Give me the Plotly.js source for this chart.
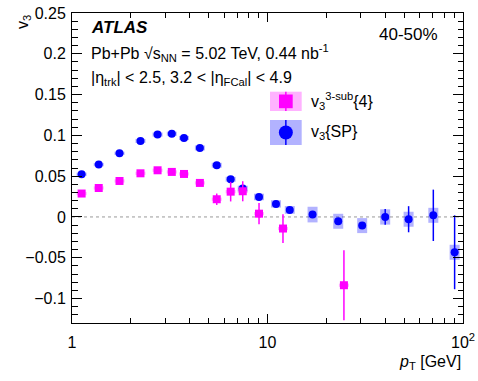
<!DOCTYPE html>
<html>
<head>
<meta charset="utf-8">
<script src="https://cdn.plot.ly/plotly-3.0.1.min.js"></script>
<style>html,body{margin:0;padding:0;background:#fff;}#chart{width:478px;height:381px;}</style>
</head>
<body>
<div id="chart"></div>
<script>
// v3{SP}
const ptSP   = [1.12, 1.37, 1.75, 2.24, 2.74, 3.24, 3.74, 4.51, 5.5, 6.48, 7.47, 9.05, 11.05, 13.0, 17.0, 23.0, 30.5, 40.0, 52.7, 70.5, 90.6];
const v3SP   = [0.0523, 0.0642, 0.078, 0.0932, 0.101, 0.102, 0.0968, 0.0846, 0.0634, 0.0462, 0.0348, 0.0245, 0.016, 0.0086, 0.0029, -0.0053, -0.0106, 0.0, -0.0028, 0.002, -0.0433];
const statSP = [0.0008, 0.0008, 0.0008, 0.0008, 0.0008, 0.0008, 0.0008, 0.001, 0.001, 0.0015, 0.002, 0.002, 0.002, 0.002, 0.003, 0.003, 0.003, 0.0096, 0.016, 0.0315, 0.0453];
const systSP = [0.002, 0.002, 0.002, 0.0025, 0.0025, 0.0025, 0.0025, 0.003, 0.003, 0.003, 0.0035, 0.004, 0.0045, 0.0047, 0.0096, 0.0092, 0.0092, 0.0094, 0.0092, 0.0092, 0.0092];
// v3^{3-sub}{4}
const ptC    = [1.12, 1.37, 1.75, 2.24, 2.74, 3.24, 3.74, 4.51, 5.5, 6.48, 7.47, 9.05, 12.0, 24.6];
const v3C    = [0.0287, 0.0355, 0.0441, 0.0535, 0.0572, 0.0552, 0.0527, 0.0417, 0.0217, 0.031, 0.0315, 0.004, -0.0142, -0.0837];
const statC  = [0.001, 0.001, 0.001, 0.0015, 0.002, 0.002, 0.002, 0.003, 0.007, 0.012, 0.0123, 0.013, 0.0176, 0.043];
const systC  = [0.002, 0.002, 0.002, 0.002, 0.002, 0.002, 0.002, 0.002, 0.002, 0.002, 0.002, 0.002, 0.002, 0.002];

const xTickVals = [1, 10, 100];
const xTickText = ['1', '10', '10<sup>2</sup>'];
const xMinorVals = [2,3,4,5,6,7,8,9,20,30,40,50,60,70,80,90];
const yTickVals = [-0.1, -0.05, 0, 0.05, 0.1, 0.15, 0.2, 0.25];
const yTickText = ['\u22120.1', '\u22120.05', '0', '0.05', '0.1', '0.15', '0.2', '0.25'];

const BLUE = '#0000ff', BLUEBOX = 'rgba(0,0,255,0.3)';
const PINK = '#ff00ff', PINKBOX = 'rgba(255,0,255,0.3)';
const FONT = 'Liberation Sans, Arial, Helvetica, sans-serif';

const traces = [
  {x: ptSP, y: v3SP, type: 'scatter', mode: 'markers', marker: {size: 1, opacity: 0},
   error_y: {type: 'data', array: systSP, visible: true, thickness: 10, width: 0, color: BLUEBOX},
   showlegend: false, hoverinfo: 'skip'},
  {x: ptC, y: v3C, type: 'scatter', mode: 'markers', marker: {size: 1, opacity: 0},
   error_y: {type: 'data', array: systC, visible: true, thickness: 10, width: 0, color: PINKBOX},
   showlegend: false, hoverinfo: 'skip'},
  {x: ptSP, y: v3SP, type: 'scatter', mode: 'markers', marker: {symbol: 'circle', size: 8, color: BLUE},
   error_y: {type: 'data', array: statSP, visible: true, thickness: 1.5, width: 0, color: BLUE},
   showlegend: false},
  {x: ptC, y: v3C, type: 'scatter', mode: 'markers', marker: {symbol: 'square', size: 8, color: PINK},
   error_y: {type: 'data', array: statC, visible: true, thickness: 1.5, width: 0, color: PINK},
   showlegend: false}
];

// plot area in pixels: x 72..463, y 13..323
const L = 72, R = 463, T = 13, B = 323;
const px = v => (v - L) / (R - L);
const py = v => (B - v) / (B - T);

const shapes = [
  {type: 'line', xref: 'paper', yref: 'y', x0: 0, x1: 1, y0: 0, y1: 0, line: {color: '#999', width: 1, dash: '3px,3px'}, layer: 'below'},
  // legend: pink
  {type: 'rect', xref: 'paper', yref: 'paper', x0: px(270), x1: px(301.7), y0: py(111), y1: py(91.7), fillcolor: PINKBOX, line: {width: 0}},
  {type: 'line', xref: 'paper', yref: 'paper', x0: px(285.85), x1: px(285.85), y0: py(111), y1: py(91.7), line: {color: PINK, width: 1.5}},
  {type: 'rect', xref: 'paper', yref: 'paper', x0: px(279), x1: px(292.7), y0: py(108.2), y1: py(94.5), fillcolor: PINK, line: {width: 0}},
  // legend: blue
  {type: 'rect', xref: 'paper', yref: 'paper', x0: px(270), x1: px(301.7), y0: py(145), y1: py(120), fillcolor: BLUEBOX, line: {width: 0}},
  {type: 'line', xref: 'paper', yref: 'paper', x0: px(285.85), x1: px(285.85), y0: py(145), y1: py(120), line: {color: BLUE, width: 1.5}},
  {type: 'circle', xref: 'paper', yref: 'paper', x0: px(278.85), x1: px(292.85), y0: py(139.5), y1: py(125.5), fillcolor: BLUE, line: {width: 0}}
];

const ann = (text, x, y, xa, ya, extra) => Object.assign({text, x, y, xref: 'paper', yref: 'paper', xanchor: xa, yanchor: ya, showarrow: false, font: {family: FONT, size: 16, color: '#000'}}, extra || {});

const annotations = [
  ann('<b><i>ATLAS</i></b>', px(89), py(28), 'left', 'middle', {font: {family: FONT, size: 17, color: '#000'}}),
  ann('Pb+Pb \u221As<sub>NN</sub> = 5.02 TeV, 0.44 nb<sup>-1</sup>', px(89), py(53), 'left', 'middle'),
  ann('|\u03b7<sub>trk</sub>| < 2.5, 3.2 < |\u03b7<sub>FCal</sub>| < 4.9', px(89), py(78), 'left', 'middle'),
  ann('40-50%', px(440), py(35), 'right', 'middle', {font: {family: FONT, size: 17, color: '#000'}}),
  ann('v<sub>3</sub><sup>3-sub</sup>{4}', px(309), py(101), 'left', 'middle'),
  ann('v<sub>3</sub>{SP}', px(309), py(132), 'left', 'middle'),
  ann('<i>p</i><sub>T</sub> [GeV]', 1, py(363), 'right', 'middle'),
  ann('v<sub>3</sub>', px(23), 1, 'center', 'top', {textangle: -90})
];

const layout = {
  width: 478, height: 381,
  margin: {l: L, r: 478 - R, t: T, b: 381 - B, pad: 0},
  paper_bgcolor: '#fff', plot_bgcolor: '#fff',
  font: {family: FONT, size: 16, color: '#000'},
  showlegend: false,
  xaxis: {
    type: 'log', range: [0, 2], showgrid: false, zeroline: false,
    showline: true, linecolor: '#000', linewidth: 1, mirror: 'allticks',
    ticks: 'inside', ticklen: 9, tickcolor: '#000', tickwidth: 1,
    tickmode: 'array', tickvals: xTickVals, ticktext: xTickText,
    ticklabelstandoff: 5,
    minor: {tickmode: 'array', tickvals: xMinorVals, ticks: 'inside', ticklen: 5, tickcolor: '#000', showgrid: false},
    tickfont: {family: FONT, size: 16, color: '#000'}
  },
  yaxis: {
    range: [-0.13, 0.25], showgrid: false, zeroline: false,
    showline: true, linecolor: '#000', linewidth: 1, mirror: 'allticks',
    ticks: 'inside', ticklen: 10, tickcolor: '#000', tickwidth: 1,
    tickmode: 'array', tickvals: yTickVals, ticktext: yTickText,
    ticklabelstandoff: 2,
    minor: {dtick: 0.01, tick0: 0, ticks: 'inside', ticklen: 5.5, tickcolor: '#000', showgrid: false},
    tickfont: {family: FONT, size: 16, color: '#000'}
  },
  shapes, annotations
};

Plotly.newPlot('chart', traces, layout, {staticPlot: true, displayModeBar: false});
</script>
</body>
</html>
